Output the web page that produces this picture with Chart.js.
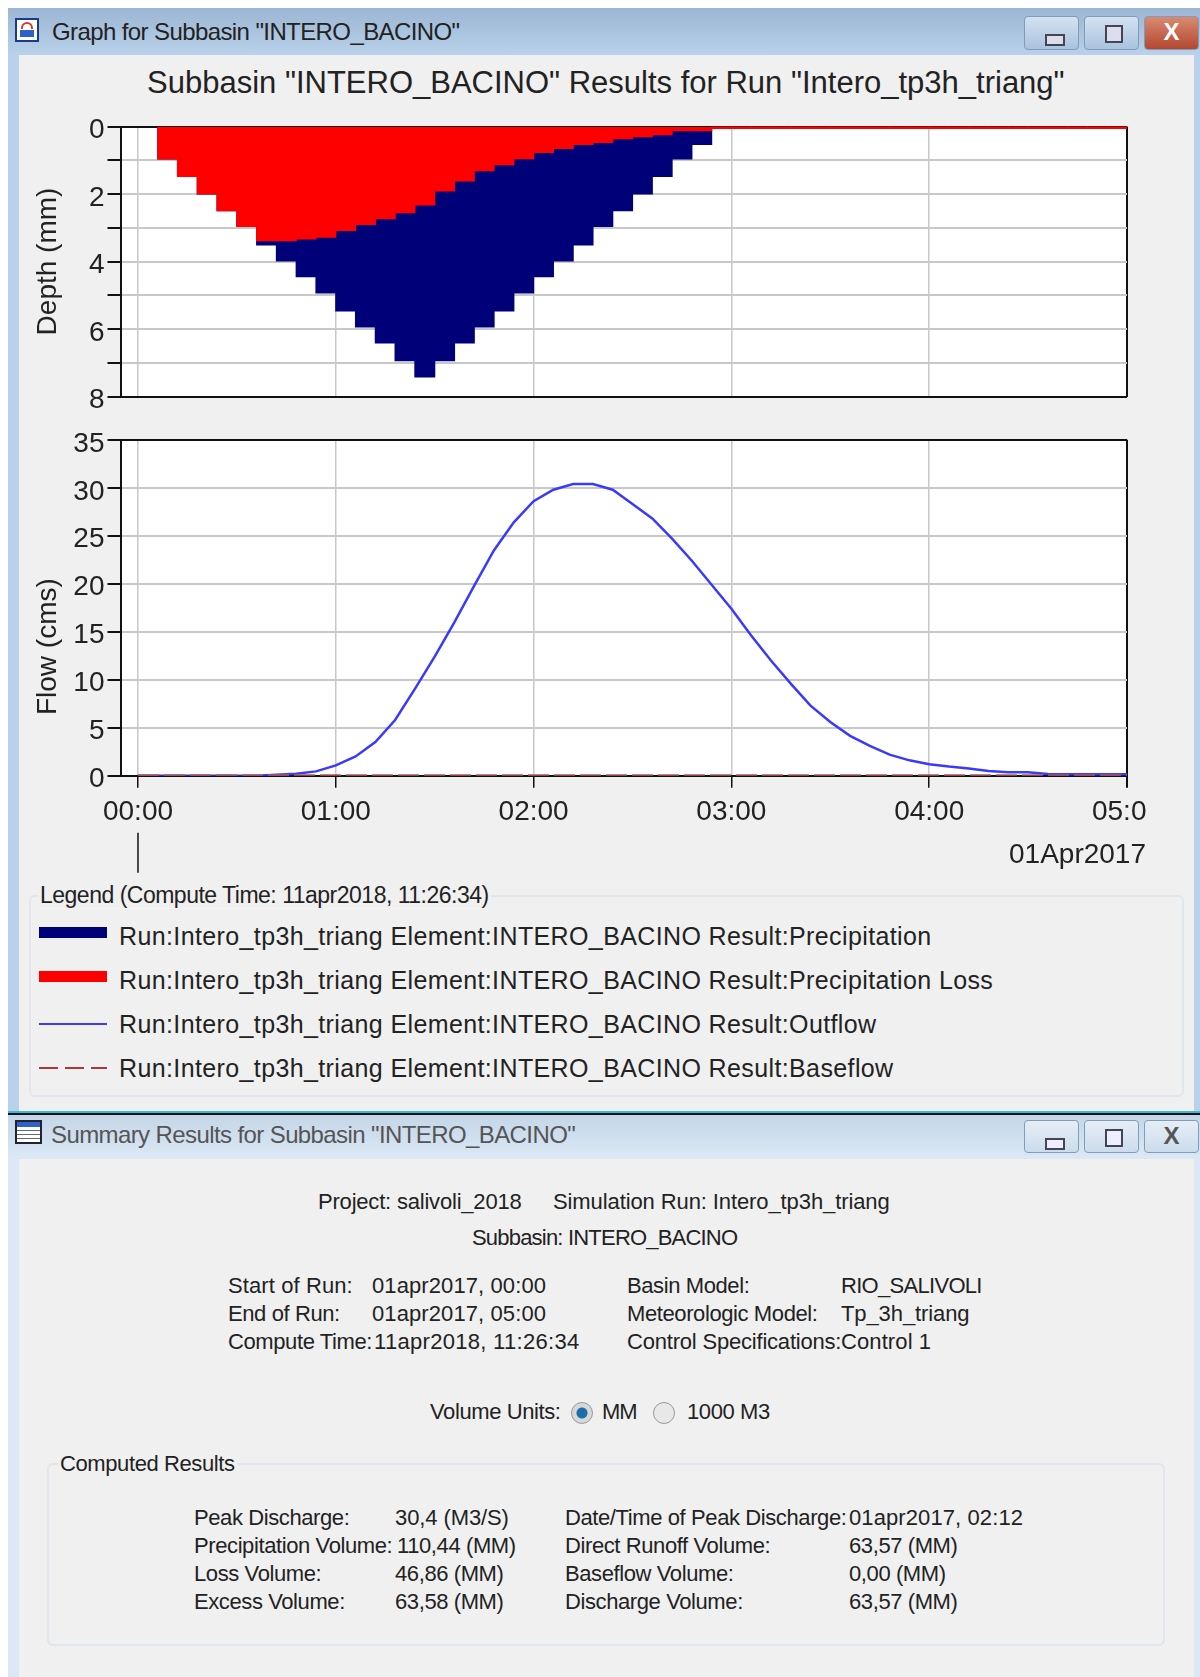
<!DOCTYPE html>
<html>
<head>
<meta charset="utf-8">
<title>Subbasin INTERO_BACINO</title>
<script src="https://cdn.jsdelivr.net/npm/chart.js@4/dist/chart.umd.min.js"></script>
<style>
html, body { margin: 0; padding: 0; background: #fff; }
#page { position: relative; width: 1200px; height: 1677px; overflow: hidden; font-family: "Liberation Sans", Arial, sans-serif; color: #222; }
.abs { position: absolute; }
.t { position: absolute; transform: translateY(-50%); white-space: nowrap; font-size: 22px; letter-spacing: -0.4px; }
.d { letter-spacing: 0.1px; }
.leg { font-size: 25px; letter-spacing: 0.38px; }
.wt { font-size: 24px; letter-spacing: -0.6px; }
.box { position: absolute; border: 2px solid #dfe6ec; border-radius: 6px; }
.btn { position: absolute; width: 55px; border: 1px solid #7f9db9; border-radius: 4px; box-sizing: border-box; background: linear-gradient(#d4e2f1, #a9c3de); text-align: center; color: #444; }
canvas { position: absolute; left: 0; }
.swatch { position: absolute; left: 39px; width: 68px; }
.radio { position: absolute; width: 22px; height: 22px; border-radius: 50%; border: 1px solid #999; box-sizing: border-box; background: #e8e8e8; }
</style>
</head>
<body>
<div id="page">
  <!-- window 1 -->
  <div class="abs" style="left:8px;top:8px;width:1192px;height:1105px;background:#b9d1ea"></div>
  <div class="abs" style="left:8px;top:8px;width:1192px;height:47px;background:linear-gradient(#9bb6d3,#b9d1ea)"></div>
  <div class="abs" style="left:19px;top:55px;width:1175px;height:1056px;background:#f0f0f0"></div>
  <div class="abs" style="left:15px;top:18px;width:24px;height:24px;border:2px solid #1a3a8c;box-sizing:border-box;background:#fff">
    <div class="abs" style="left:3px;top:10px;width:14px;height:7px;background:#2f62c8"></div>
    <div class="abs" style="left:4px;top:2px;width:12px;height:7px;border:2px solid #d33;border-bottom:0;border-radius:6px 6px 0 0;box-sizing:border-box"></div>
  </div>
  <div class="t wt" style="left:52px;top:32px">Graph for Subbasin "INTERO_BACINO"</div>
  <div class="btn" style="left:1024px;top:16px;height:34px"><div class="abs" style="left:20px;top:17px;width:16px;height:8px;border:2px solid #445;background:#dde"></div></div>
  <div class="btn" style="left:1084px;top:16px;height:34px"><div class="abs" style="left:20px;top:8px;width:14px;height:14px;border:2px solid #445;background:#dde"></div></div>
  <div class="btn" style="left:1144px;top:16px;height:34px;background:linear-gradient(#d98a72,#b4472f);color:#fff;font-weight:bold;font-size:24px;line-height:30px">X</div>

  <div class="t" id="plotTitle" style="left:147px;top:83px;font-size:31px;letter-spacing:0">Subbasin "INTERO_BACINO" Results for Run "Intero_tp3h_triang"</div>

  <canvas id="depth-chart" width="1200" height="320" style="top:100px"></canvas>
  <canvas id="flow-chart" width="1200" height="470" style="top:420px"></canvas>

  <!-- legend -->
  <div class="box" style="left:29px;top:895px;width:1151px;height:198px"></div>
  <div class="t" style="left:38px;top:895px;font-size:23px;letter-spacing:-0.5px;background:#f0f0f0;padding:0 2px">Legend (Compute Time: 11apr2018, 11:26:34)</div>
  <div id="legend-rows"></div>

  <!-- window 2 -->
  <div class="abs" style="left:8px;top:1111px;width:1192px;height:566px;background:#dce8f5"></div>
  <div class="abs" style="left:8px;top:1111px;width:1192px;height:2px;background:#35bcd8"></div>
  <div class="abs" style="left:8px;top:1113px;width:1192px;height:2px;background:#111"></div>
  <div class="abs" style="left:8px;top:1115px;width:1192px;height:44px;background:linear-gradient(#c4d6e8,#dce8f5)"></div>
  <div class="abs" style="left:19px;top:1159px;width:1175px;height:518px;background:#f0f0f0"></div>
  <div class="abs" style="left:15px;top:1120px;width:27px;height:24px;border:2px solid #223;box-sizing:border-box;background:repeating-linear-gradient(0deg,#fff 0 3px,#667 3px 4px)"><div class="abs" style="left:0;top:0;width:23px;height:5px;background:#2f62c8"></div></div>
  <div class="t wt" style="left:51px;top:1135px;color:#555">Summary Results for Subbasin "INTERO_BACINO"</div>
  <div class="btn" style="left:1024px;top:1120px;height:33px;background:linear-gradient(#e6eef6,#ccdcec)"><div class="abs" style="left:20px;top:17px;width:16px;height:8px;border:2px solid #445;background:#eef"></div></div>
  <div class="btn" style="left:1084px;top:1120px;height:33px;background:linear-gradient(#e6eef6,#ccdcec)"><div class="abs" style="left:20px;top:8px;width:14px;height:14px;border:2px solid #445;background:#eef"></div></div>
  <div class="btn" style="left:1144px;top:1120px;height:33px;background:linear-gradient(#e6eef6,#ccdcec);color:#555;font-weight:bold;font-size:24px;line-height:30px">X</div>

  <div class="t" style="left:318px;top:1202px;letter-spacing:-0.2px">Project: salivoli_2018</div>
  <div class="t" style="left:553px;top:1202px;letter-spacing:-0.1px">Simulation Run: Intero_tp3h_triang</div>
  <div class="t" style="left:472px;top:1238px;letter-spacing:-0.8px">Subbasin: INTERO_BACINO</div>

  <div class="t" style="left:228px;top:1286px;letter-spacing:0.1px">Start of Run:</div>
  <div class="t d" style="left:372px;top:1286px">01apr2017, 00:00</div>
  <div class="t" style="left:627px;top:1286px">Basin Model:</div>
  <div class="t" style="left:841px;top:1286px;letter-spacing:-0.7px">RIO_SALIVOLI</div>
  <div class="t" style="left:228px;top:1314px">End of Run:</div>
  <div class="t d" style="left:372px;top:1314px">01apr2017, 05:00</div>
  <div class="t" style="left:627px;top:1314px">Meteorologic Model:</div>
  <div class="t" style="left:841px;top:1314px;letter-spacing:-0.1px">Tp_3h_triang</div>
  <div class="t" style="left:228px;top:1342px">Compute Time:</div>
  <div class="t" style="left:374px;top:1342px;letter-spacing:0.3px">11apr2018, 11:26:34</div>
  <div class="t" style="left:627px;top:1342px;letter-spacing:-0.2px">Control Specifications:</div>
  <div class="t" style="left:841px;top:1342px;letter-spacing:0.1px">Control 1</div>

  <div class="t" style="left:430px;top:1412px">Volume Units:</div>
  <div class="radio" style="left:571px;top:1402px;background:radial-gradient(circle,#1c6fa8 0 5px,#d8d8d8 6px)"></div>
  <div class="t" style="left:602px;top:1412px;letter-spacing:-1px">MM</div>
  <div class="radio" style="left:653px;top:1402px"></div>
  <div class="t" style="left:687px;top:1412px">1000 M3</div>

  <div class="box" style="left:47px;top:1463px;width:1114px;height:179px"></div>
  <div class="t" style="left:58px;top:1464px;background:#f0f0f0;padding:0 2px">Computed Results</div>

  <div class="t" style="left:194px;top:1518px">Peak Discharge:</div>
  <div class="t" style="left:395px;top:1518px;letter-spacing:-0.1px">30,4 (M3/S)</div>
  <div class="t" style="left:565px;top:1518px">Date/Time of Peak Discharge:</div>
  <div class="t d" style="left:849px;top:1518px">01apr2017, 02:12</div>
  <div class="t" style="left:194px;top:1546px">Precipitation Volume:</div>
  <div class="t" style="left:397px;top:1546px">110,44 (MM)</div>
  <div class="t" style="left:565px;top:1546px">Direct Runoff Volume:</div>
  <div class="t" style="left:849px;top:1546px">63,57 (MM)</div>
  <div class="t" style="left:194px;top:1574px">Loss Volume:</div>
  <div class="t" style="left:395px;top:1574px">46,86 (MM)</div>
  <div class="t" style="left:565px;top:1574px">Baseflow Volume:</div>
  <div class="t" style="left:849px;top:1574px">0,00 (MM)</div>
  <div class="t" style="left:194px;top:1602px">Excess Volume:</div>
  <div class="t" style="left:395px;top:1602px">63,58 (MM)</div>
  <div class="t" style="left:565px;top:1602px">Discharge Volume:</div>
  <div class="t" style="left:849px;top:1602px">63,57 (MM)</div>
</div>

<script>
// hours, centre of each 6 minute precipitation interval
const barTimes = [0.15, 0.25, 0.35, 0.45, 0.55, 0.65, 0.75, 0.85, 0.95, 1.05, 1.15, 1.25, 1.35, 1.45,
    1.55, 1.65, 1.75, 1.85, 1.95, 2.05, 2.15, 2.25, 2.35, 2.45, 2.55, 2.65, 2.75, 2.85,
    2.95, 3.05, 3.15, 3.25, 3.35, 3.45, 3.55, 3.65, 3.75, 3.85, 3.95, 4.05, 4.15, 4.25,
    4.35, 4.45, 4.55, 4.65, 4.75, 4.85, 4.95];
const precipitation = [0.96, 1.48, 2.00, 2.49, 2.96, 3.51, 3.98, 4.45, 4.93, 5.46, 5.94, 6.41, 6.94, 7.42,
    6.94, 6.41, 5.94, 5.46, 4.93, 4.45, 3.98, 3.51, 2.96, 2.49, 2.00, 1.48, 0.96, 0.53];
const precipLoss = [0.96, 1.48, 2.00, 2.49, 2.96, 3.38, 3.38, 3.33, 3.28, 3.08, 2.90, 2.73, 2.55, 2.32,
    1.91, 1.61, 1.31, 1.13, 0.95, 0.77, 0.65, 0.53, 0.47, 0.36, 0.30, 0.24, 0.12, 0.12,
    0, 0, 0, 0, 0, 0, 0, 0, 0, 0, 0, 0, 0, 0,
    0, 0, 0, 0, 0, 0, 0];

const flowTimes = [0, 0.1, 0.2, 0.3, 0.4, 0.5, 0.6, 0.7, 0.8, 0.9, 1.0, 1.1, 1.2, 1.3, 1.4, 1.5, 1.6, 1.7, 1.8, 1.9,
    2.0, 2.1, 2.2, 2.3, 2.4, 2.5, 2.6, 2.7, 2.8, 2.9, 3.0, 3.1, 3.2, 3.3, 3.4, 3.5, 3.6, 3.7, 3.8, 3.9,
    4.0, 4.1, 4.2, 4.3, 4.4, 4.5, 4.6, 4.7, 4.8, 4.9, 5.0];
const outflow = [0, 0, 0, 0, 0, 0, 0, 0.1, 0.2, 0.45, 1.08, 2.0, 3.5, 5.8, 9.05, 12.4, 16.0, 19.8, 23.5, 26.4,
    28.6, 29.8, 30.4, 30.4, 29.8, 28.3, 26.8, 24.7, 22.4, 19.9, 17.4, 14.6, 12.0, 9.6, 7.3, 5.6, 4.15, 3.1, 2.2, 1.6,
    1.2, 0.95, 0.75, 0.5, 0.35, 0.35, 0.18, 0.15, 0.15, 0.15, 0.15];
const baseflow = [0, 0, 0, 0, 0, 0, 0, 0, 0, 0, 0, 0, 0, 0, 0, 0, 0, 0, 0, 0,
    0, 0, 0, 0, 0, 0, 0, 0, 0, 0, 0, 0, 0, 0, 0, 0, 0, 0, 0, 0,
    0, 0, 0, 0, 0, 0, 0, 0, 0, 0, 0];

const hourTicks = [0, 1, 2, 3, 4, 5];
const hourLabels = ['00:00', '01:00', '02:00', '03:00', '04:00', '05:0\u00A0\u00A0'];
const dateLabel = '01Apr2017';

const legendLabels = [
    'Run:Intero_tp3h_triang Element:INTERO_BACINO Result:Precipitation',
    'Run:Intero_tp3h_triang Element:INTERO_BACINO Result:Precipitation Loss',
    'Run:Intero_tp3h_triang Element:INTERO_BACINO Result:Outflow',
    'Run:Intero_tp3h_triang Element:INTERO_BACINO Result:Baseflow'
];

const NAVY = '#000078';
const RED = '#ff0000';
const BLUE = '#3a3aff';
const BROWN = '#a8383c';
const GRID = '#c8c8c8';
const FONT = '"Liberation Sans", Arial, sans-serif';
const xMin = -0.0884;

// white plot background, the page behind is grey
const plotBackground = {
    id: 'plotBackground',
    beforeDraw(chart) {
        const a = chart.chartArea;
        chart.ctx.fillStyle = '#fff';
        chart.ctx.fillRect(a.left, a.top, a.width, a.height);
    }
};

function xScale(showLabels) {
    return {
        type: 'linear',
        min: xMin,
        max: 5,
        offset: false,
        afterBuildTicks: s => { s.ticks = hourTicks.map(v => ({ value: v })); },
        afterFit: s => { s.height = showLabels ? 90 : 0; },
        border: { display: false },
        grid: {
            offset: false,
            color: c => (c.tick && c.tick.value === 5) ? '#111' : GRID,
            lineWidth: c => (c.tick && c.tick.value === 5) ? 2 : 1.5,
            drawTicks: showLabels,
            tickColor: '#111',
            tickLength: 12
        },
        ticks: {
            display: showLabels,
            autoSkip: false,
            maxRotation: 0,
            padding: 8,
            color: '#222',
            font: { family: FONT, size: 28 },
            callback: v => hourLabels[hourTicks.indexOf(v)]
        }
    };
}

function yScale(opts) {
    return {
        min: opts.min,
        max: opts.max,
        reverse: opts.reverse,
        afterFit: s => { s.width = 120.5; },
        title: { display: true, text: opts.title, color: '#222', padding: { top: 31, bottom: 0 }, font: { family: FONT, size: 28 } },
        border: { color: '#111', width: 2 },
        grid: {
            color: c => (c.tick && (c.tick.value === opts.min || c.tick.value === opts.max)) ? '#111' : GRID,
            lineWidth: 2,
            tickColor: '#111',
            tickLength: 13
        },
        ticks: {
            stepSize: opts.step,
            autoSkip: false,
            padding: 3,
            labelOffset: 4,
            color: '#222',
            font: { family: FONT, size: 28 },
            callback: opts.labels
        }
    };
}

new Chart(document.getElementById('depth-chart').getContext('2d'), {
    type: 'bar',
    data: {
        datasets: [{
            label: legendLabels[1],
            data: precipLoss.map((v, i) => ({ x: barTimes[i], y: v })),
            backgroundColor: RED,
            minBarLength: 4,
            inflateAmount: 0.6,
            order: 1
        }, {
            label: legendLabels[0],
            data: precipitation.map((v, i) => ({ x: barTimes[i], y: v })),
            backgroundColor: NAVY,
            inflateAmount: 0.6,
            order: 2
        }]
    },
    options: {
        responsive: false,
        animation: false,
        layout: { padding: { top: 26.5, bottom: 23.5, right: 73, left: 0 } },
        grouped: false,
        barPercentage: 1,
        categoryPercentage: 1,
        plugins: { legend: { display: false }, tooltip: { enabled: false } },
        scales: {
            x: xScale(false),
            y: yScale({ min: 0, max: 8, step: 1, reverse: true, title: 'Depth (mm)', labels: v => v % 2 === 0 ? v : '' })
        }
    },
    plugins: [plotBackground]
});

new Chart(document.getElementById('flow-chart').getContext('2d'), {
    type: 'line',
    data: {
        datasets: [{
            label: legendLabels[2],
            data: outflow.map((v, i) => ({ x: flowTimes[i], y: v })),
            borderColor: BLUE,
            borderWidth: 2.5,
            pointRadius: 0,
            tension: 0,
            order: 2
        }, {
            label: legendLabels[3],
            data: baseflow.map((v, i) => ({ x: flowTimes[i], y: v })),
            borderColor: '#b05a5a',
            borderWidth: 3,
            borderDash: [21, 5],
            pointRadius: 0,
            tension: 0,
            order: 1
        }]
    },
    options: {
        responsive: false,
        animation: false,
        layout: { padding: { top: 19.5, bottom: 24.3, right: 73, left: 0 } },
        plugins: { legend: { display: false }, tooltip: { enabled: false } },
        scales: {
            x: xScale(true),
            // trailing spaces push the rotated title down, it sits below the plot centre in the original
            y: yScale({ min: 0, max: 35, step: 5, reverse: false, title: 'Flow (cms)' + '\u00A0'.repeat(10), labels: v => v })
        }
    },
    plugins: [plotBackground, {
        // long day tick under 00:00 and the date at the right
        id: 'dateMark',
        afterDraw(chart) {
            const ctx = chart.ctx;
            const x = chart.scales.x.getPixelForValue(0);
            ctx.save();
            ctx.strokeStyle = '#111';
            ctx.lineWidth = 1.5;
            ctx.beginPath();
            ctx.moveTo(x, chart.chartArea.bottom + 57);
            ctx.lineTo(x, chart.chartArea.bottom + 97);
            ctx.stroke();
            ctx.font = '28px ' + FONT;
            ctx.fillStyle = '#222';
            ctx.textAlign = 'right';
            ctx.textBaseline = 'middle';
            ctx.fillText(dateLabel, 1146, chart.chartArea.bottom + 80);
            ctx.restore();
        }
    }]
});

// legend rows are built from the same labels as the datasets
const legendRows = document.getElementById('legend-rows');
const legendKeys = [
    { top: 927, height: 11, css: 'background:' + NAVY },
    { top: 971, height: 11, css: 'background:' + RED },
    { top: 1023, height: 2, css: 'background:' + BLUE },
    { top: 1067, height: 2, css: 'background:repeating-linear-gradient(90deg,' + BROWN + ' 0 19px,transparent 19px 26px)' }
];
const legendTextY = [936, 980, 1024, 1068];
legendLabels.forEach((text, i) => {
    const k = legendKeys[i];
    legendRows.insertAdjacentHTML('beforeend',
        '<div class="swatch" style="top:' + k.top + 'px;height:' + k.height + 'px;' + k.css + '"></div>' +
        '<div class="t leg" style="left:119px;top:' + legendTextY[i] + 'px">' + text + '</div>');
});
</script>
</body>
</html>
